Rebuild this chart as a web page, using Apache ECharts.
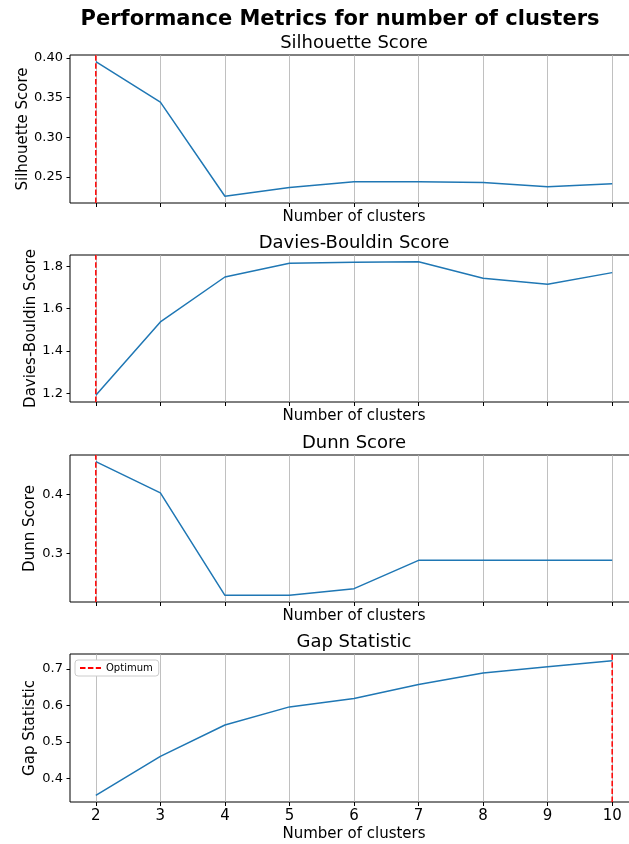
<!DOCTYPE html>
<html>
<head>
<meta charset="utf-8">
<script src="https://cdn.jsdelivr.net/npm/echarts@6/dist/echarts.min.js"></script>
<style>html,body{margin:0;padding:0;background:#fff;}#chart{width:629px;height:844px;}</style>
</head>
<body>
<div id="chart"></div>
<script>
// ---- data ----
const clusters = [2, 3, 4, 5, 6, 7, 8, 9, 10];
const silhouette = [0.3953, 0.3443, 0.2254, 0.2364, 0.2436, 0.2436, 0.2428, 0.2373, 0.2411];
const daviesBouldin = [1.1906, 1.5374, 1.7496, 1.8141, 1.8189, 1.8220, 1.7434, 1.7150, 1.7703];
const dunn = [0.4556, 0.4029, 0.2297, 0.2297, 0.2410, 0.2888, 0.2888, 0.2888, 0.2888];
const gapStat = [0.3540, 0.4606, 0.5467, 0.5962, 0.6191, 0.6577, 0.6890, 0.7062, 0.7227];

const xTicks = [2, 3, 4, 5, 6, 7, 8, 9, 10];
const silTicks = [0.25, 0.30, 0.35, 0.40];
const silTickLabels = ['0.25', '0.30', '0.35', '0.40'];
const dbTicks = [1.2, 1.4, 1.6, 1.8];
const dbTickLabels = ['1.2', '1.4', '1.6', '1.8'];
const dunnTicks = [0.3, 0.4];
const dunnTickLabels = ['0.3', '0.4'];
const gapTicks = [0.4, 0.5, 0.6, 0.7];
const gapTickLabels = ['0.4', '0.5', '0.6', '0.7'];

const mainTitle = 'Performance Metrics for number of clusters';
const xLabel = 'Number of clusters';

// ---- helpers ----
function argBest(arr, mode) {
  let bi = 0;
  for (let i = 1; i < arr.length; i++) {
    if (mode === 'max' ? arr[i] > arr[bi] : arr[i] < arr[bi]) bi = i;
  }
  return clusters[bi];
}
function padRange(arr) {
  const mn = Math.min.apply(null, arr), mx = Math.max.apply(null, arr);
  const m = (mx - mn) * 0.05;
  return [mn - m, mx + m];
}

const FONT = 'DejaVu Sans';
const panels = [
  { title: 'Silhouette Score', ylabel: 'Silhouette Score', values: silhouette, ticks: silTicks, labels: silTickLabels, opt: argBest(silhouette, 'max'), top: 55, height: 148, nameGap: 39 },
  { title: 'Davies-Bouldin Score', ylabel: 'Davies-Bouldin Score', values: daviesBouldin, ticks: dbTicks, labels: dbTickLabels, opt: argBest(daviesBouldin, 'min'), top: 255, height: 147, nameGap: 31 },
  { title: 'Dunn Score', ylabel: 'Dunn Score', values: dunn, ticks: dunnTicks, labels: dunnTickLabels, opt: argBest(dunn, 'max'), top: 455, height: 147, nameGap: 32 },
  { title: 'Gap Statistic', ylabel: 'Gap Statistic', values: gapStat, ticks: gapTicks, labels: gapTickLabels, opt: argBest(gapStat, 'max'), top: 654, height: 148, nameGap: 32 }
];

const xMin = clusters[0] - 0.05 * (clusters[clusters.length - 1] - clusters[0]);
const xMax = clusters[clusters.length - 1] + 0.05 * (clusters[clusters.length - 1] - clusters[0]);

const grids = [], xAxes = [], yAxes = [], series = [], graphics = [];

graphics.push({
  type: 'text', x: 340, y: 20,
  style: { text: mainTitle, fontFamily: FONT, fontSize: 21, fontWeight: 'bold', fill: '#000', align: 'center', verticalAlign: 'middle' }
});

panels.forEach((p, i) => {
  const last = i === panels.length - 1;
  const yr = padRange(p.values);
  grids.push({ left: 70, top: p.top, width: 568, height: p.height, outerBoundsMode: 'none', containLabel: false, show: true, borderColor: '#000', borderWidth: 1, backgroundColor: 'transparent' });
  graphics.push({
    type: 'text', x: 354, y: p.top - 12,
    style: { text: p.title, fontFamily: FONT, fontSize: 18, fill: '#000', align: 'center', verticalAlign: 'middle' }
  });
  xAxes.push({
    type: 'value', gridIndex: i, min: xMin, max: xMax,
    axisLine: { show: false },
    axisTick: { show: true, inside: false, length: 4, lineStyle: { color: '#000', width: 1 }, customValues: xTicks },
    axisLabel: { show: last, customValues: xTicks, margin: 7, fontFamily: FONT, fontSize: 15, color: '#000' },
    splitLine: { show: true, lineStyle: { color: '#b0b0b0', width: 0.8 } },
    name: xLabel, nameLocation: 'middle', nameGap: last ? 25 : 7, nameMoveOverlap: false,
    nameTextStyle: { fontFamily: FONT, fontSize: 15, color: '#000', verticalAlign: 'top' }
  });
  yAxes.push({
    type: 'value', gridIndex: i, min: yr[0], max: yr[1],
    axisLine: { show: false },
    axisTick: { show: true, inside: false, length: 3.5, lineStyle: { color: '#000', width: 1 }, customValues: p.ticks },
    axisLabel: {
      customValues: p.ticks, margin: 7, fontFamily: FONT, fontSize: 13, color: '#000',
      formatter: (v) => { const k = p.ticks.findIndex(t => Math.abs(t - v) < 1e-9); return k >= 0 ? p.labels[k] : ''; }
    },
    splitLine: { show: false },
    name: p.ylabel, nameLocation: 'middle', nameGap: p.nameGap, nameRotate: 90, nameMoveOverlap: false,
    nameTextStyle: { fontFamily: FONT, fontSize: 15, color: '#000' }
  });
  series.push({
    type: 'line', name: p.title, xAxisIndex: i, yAxisIndex: i,
    data: clusters.map((c, k) => [c, p.values[k]]),
    symbol: 'none', smooth: false, silent: true,
    lineStyle: { color: '#1f77b4', width: 1.5 }, itemStyle: { color: '#1f77b4' }, z: 2
  });
  series.push({
    type: 'line', name: 'Optimum', xAxisIndex: i, yAxisIndex: i,
    data: [[p.opt, yr[0]], [p.opt, yr[1]]],
    symbol: 'none', silent: true,
    lineStyle: { color: '#ff0000', width: 1.5, type: [5.5, 2.4] }, itemStyle: { color: '#ff0000' }, z: 3
  });
});

const chart = echarts.init(document.getElementById('chart'), null, { renderer: 'canvas' });
chart.setOption({
  animation: false,
  backgroundColor: '#fff',
  textStyle: { fontFamily: FONT },
  grid: grids,
  xAxis: xAxes,
  yAxis: yAxes,
  series: series,
  graphic: graphics,
  legend: {
    data: ['Optimum'], left: 75, top: 660, orient: 'vertical',
    backgroundColor: '#fff', borderColor: '#cccccc', borderWidth: 1, borderRadius: 3,
    padding: [3, 6, 3, 4], itemWidth: 21, itemHeight: 8, itemGap: 4,
    itemStyle: { opacity: 0 },
    textStyle: { fontFamily: FONT, fontSize: 10, color: '#000' },
    selectedMode: false
  },
  tooltip: { show: false }
});
</script>
</body>
</html>
